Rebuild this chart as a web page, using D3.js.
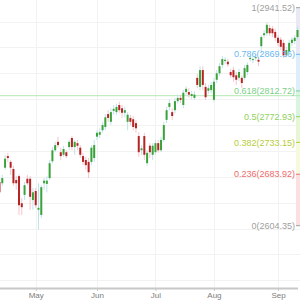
<!DOCTYPE html>
<html>
<head>
<meta charset="utf-8">
<script src="https://cdn.jsdelivr.net/npm/d3@7"></script>
<style>
  body { margin: 0; background: #fff; }
  svg { display: block; font-family: Arial, "Liberation Sans", sans-serif; }
  .grid line { stroke: #f2f2f2; stroke-width: 1; }
  .x.axis path { stroke: #c8c8c8; stroke-width: 2; }
  .x.axis line { stroke: #c8c8c8; }
  .x.axis text { fill: #7c7c7c; font-size: 8px; }
</style>
</head>
<body>
<div id="chart"></div>
<script>
// trading days shown, per month (2018)
var aprDays = [12, 13, 16, 17, 18, 19, 20, 23, 24, 25, 26, 27, 30];
var mayDays = [1, 2, 3, 4, 7, 8, 9, 10, 11, 14, 15, 16, 17, 18, 21, 22, 23, 24, 25, 29, 30, 31];
var junDays = [1, 4, 5, 6, 7, 8, 11, 12, 13, 14, 15, 18, 19, 20, 21, 22, 25, 26, 27, 28, 29];
var julDays = [2, 3, 5, 6, 9, 10, 11, 12, 13, 16, 17, 18, 19, 20, 23, 24, 25, 26, 27, 30, 31];
var augDays = [1, 2, 3, 6, 7, 8, 9, 10, 13, 14, 15, 16, 17, 20, 21, 22, 23, 24, 27, 28, 29, 30, 31];
var sepDays = [4, 5, 6, 7, 10, 11, 12, 13];

// OHLC
var open  = [2672,2670,2694,2712,2703,2692,2675,2681,2639,2652,2677,2677,2644,2658,2629,2621,2670,2669,2678,2704,
             2721,2734,2718,2714,2718,2726,2740,2726,2732,2725,2712,2706,2703,2703,2709,2742,2745,2752,2757,2777,
             2765,2782,2780,2791,2786,2779,2765,2771,2769,2763,2743,2721,2743,2701,2728,2714,2718,2732,2721,2737,
             2768,2788,2780,2783,2797,2802,2791,2811,2811,2805,2802,2833,2819,2845,2819,2813,2814,2799,2830,2840,
             2853,2859,2858,2842,2845,2837,2833,2833,2833,2842,2862,2861,2864,2861,2882,2899,2902,2910,2909,2904,
             2895,2892,2887,2868,2873,2887,2890,2896];
var high  = [2678,2683,2714,2717,2706,2697,2681,2684,2647,2672,2683,2681,2663,2663,2670,2667,2678,2681,2706,2726,
             2734,2742,2725,2728,2721,2737,2743,2737,2737,2729,2717,2711,2709,2729,2737,2752,2755,2765,2777,2783,
             2786,2791,2793,2796,2791,2788,2780,2776,2774,2768,2749,2729,2748,2721,2732,2732,2737,2737,2742,2765,
             2788,2799,2786,2802,2807,2807,2814,2820,2817,2813,2812,2839,2851,2851,2825,2822,2827,2833,2845,2856,
             2867,2865,2862,2847,2850,2842,2847,2837,2853,2857,2868,2867,2870,2865,2899,2907,2919,2915,2913,2909,
             2899,2896,2892,2881,2892,2896,2899,2912];
var low   = [2650,2666,2691,2703,2683,2666,2660,2621,2621,2644,2667,2629,2629,2632,2598,2616,2660,2656,2675,2701,
             2718,2725,2706,2711,2709,2721,2721,2714,2721,2709,2698,2691,2678,2698,2703,2737,2740,2748,2752,2765,
             2760,2776,2776,2779,2771,2772,2752,2760,2752,2748,2711,2714,2706,2697,2709,2706,2714,2717,2718,2734,
             2763,2783,2768,2778,2793,2794,2786,2807,2802,2800,2799,2817,2814,2814,2799,2808,2809,2796,2825,2836,
             2848,2854,2850,2833,2827,2822,2828,2817,2830,2837,2858,2856,2859,2851,2871,2895,2898,2898,2896,2890,
             2882,2876,2864,2864,2868,2882,2885,2892];
var close = [2656,2678,2708,2709,2694,2670,2670,2636,2633,2667,2670,2649,2656,2636,2632,2664,2674,2674,2701,2721,
             2729,2729,2712,2723,2712,2734,2726,2734,2728,2714,2703,2698,2687,2725,2729,2748,2749,2760,2772,2771,
             2780,2785,2788,2783,2779,2783,2776,2765,2757,2755,2718,2724,2714,2717,2718,2728,2732,2721,2737,2760,
             2783,2794,2774,2797,2802,2799,2810,2816,2807,2808,2807,2822,2845,2822,2803,2817,2822,2827,2840,2851,
             2862,2861,2854,2837,2834,2830,2842,2825,2848,2853,2864,2862,2865,2858,2896,2902,2915,2902,2902,2895,
             2887,2881,2868,2876,2887,2892,2895,2907];

// fibonacci retracement
var fibLevels = ["0", "0.236", "0.382", "0.5", "0.618", "0.786", "1"];
var fibValues = [2604.35, 2683.92, 2733.15, 2772.93, 2812.72, 2869.36, 2941.52];
var fibColors = ["#a0a0a0", "#ef6b6b", "#b8cc3a", "#8fd05c", "#7cd08a", "#6cb8ee", "#a0a0a0"];
var fibBands = ["#fbdfe1", "#f6f9dc", "#e9f6d6", "#d9f5e2", "#deedfa", "#e9e9f3"];
var lineValue = 2805.4;

var monthLabels = ["May", "Jun", "Jul", "Aug", "Sep"];

function pad(n) { return n < 10 ? "0" + n : "" + n; }
var dates = [];
[[4, aprDays], [5, mayDays], [6, junDays], [7, julDays], [8, augDays], [9, sepDays]].forEach(function(m) {
  m[1].forEach(function(d) { dates.push("2018-" + pad(m[0]) + "-" + pad(d)); });
});
var data = dates.map(function(d, i) {
  return {date: d, open: open[i], high: high[i], low: low[i], close: close[i]};
});

var W = 300, H = 300, plotH = 288;

var svg = d3.select("#chart").append("svg")
    .attr("width", W)
    .attr("height", H);

var x = d3.scalePoint()
    .domain(dates)
    .range([-0.5, 297.5]);

var y = d3.scaleLinear()
    .domain([2508, 2953.4])
    .range([plotH, 0]);

// first trading day of each month after April
var monthStarts = dates.filter(function(d, i) {
  return i > 0 && d.slice(5, 7) !== dates[i - 1].slice(5, 7);
});

// grid
var grid = svg.append("g").attr("class", "grid");
grid.selectAll(".h")
    .data(d3.range(2520, 2953, 40))
    .enter().append("line")
    .attr("x1", 0).attr("x2", W)
    .attr("y1", function(d) { return Math.round(y(d)) + 0.5; })
    .attr("y2", function(d) { return Math.round(y(d)) + 0.5; });
grid.selectAll(".v")
    .data(monthStarts)
    .enter().append("line")
    .attr("x1", function(d) { return Math.round(x(d)) + 0.5; })
    .attr("x2", function(d) { return Math.round(x(d)) + 0.5; })
    .attr("y1", 0).attr("y2", plotH);

// right colour band of the retracement
var bandX = 296;
svg.append("g").selectAll("rect")
    .data(fibBands)
    .enter().append("rect")
    .attr("x", bandX)
    .attr("width", W - bandX)
    .attr("y", function(d, i) { return y(fibValues[i + 1]); })
    .attr("height", function(d, i) { return y(fibValues[i]) - y(fibValues[i + 1]); })
    .attr("fill", function(d) { return d; });

// horizontal green line
svg.append("line")
    .attr("x1", 0).attr("x2", W)
    .attr("y1", y(lineValue)).attr("y2", y(lineValue))
    .attr("stroke", "#b4e8b4")
    .attr("stroke-width", 1);

// candles
var candles = svg.append("g").selectAll("g")
    .data(data)
    .enter().append("g");

candles.append("line")
    .attr("x1", function(d) { return x(d.date); })
    .attr("x2", function(d) { return x(d.date); })
    .attr("y1", function(d) { return y(d.high); })
    .attr("y2", function(d) { return y(d.low); })
    .attr("stroke", function(d) { return d.close >= d.open ? "#bfe3ea" : "#f7c4cc"; })
    .attr("stroke-width", 1);

candles.append("rect")
    .attr("x", function(d) { return x(d.date) - 1; })
    .attr("width", 2)
    .attr("y", function(d) { return y(Math.max(d.open, d.close)); })
    .attr("height", function(d) { return Math.max(1, Math.abs(y(d.open) - y(d.close))); })
    .attr("fill", function(d) { return d.close >= d.open ? "#3aa23a" : "#b52424"; });

// fib labels and ticks
var fib = svg.append("g").selectAll("g")
    .data(fibValues)
    .enter().append("g");

fib.append("line")
    .attr("x1", bandX).attr("x2", W)
    .attr("y1", function(d) { return y(d); })
    .attr("y2", function(d) { return y(d); })
    .attr("stroke", function(d, i) { return fibColors[i]; });

fib.append("text")
    .attr("x", 295)
    .attr("y", function(d) { return y(d); })
    .attr("dy", "0.35em")
    .attr("text-anchor", "end")
    .attr("font-size", 9)
    .attr("fill", function(d, i) { return fibColors[i]; })
    .text(function(d, i) { return fibLevels[i] + "(" + d.toFixed(2) + ")"; });

// x axis
svg.append("g")
    .attr("class", "x axis")
    .attr("transform", "translate(0," + plotH + ")")
    .call(d3.axisBottom(x)
      .tickValues(monthStarts)
      .tickFormat(function(d, i) { return monthLabels[i]; })
      .tickSize(3)
      .tickPadding(1)
      .tickSizeOuter(0));
</script>
</body>
</html>
